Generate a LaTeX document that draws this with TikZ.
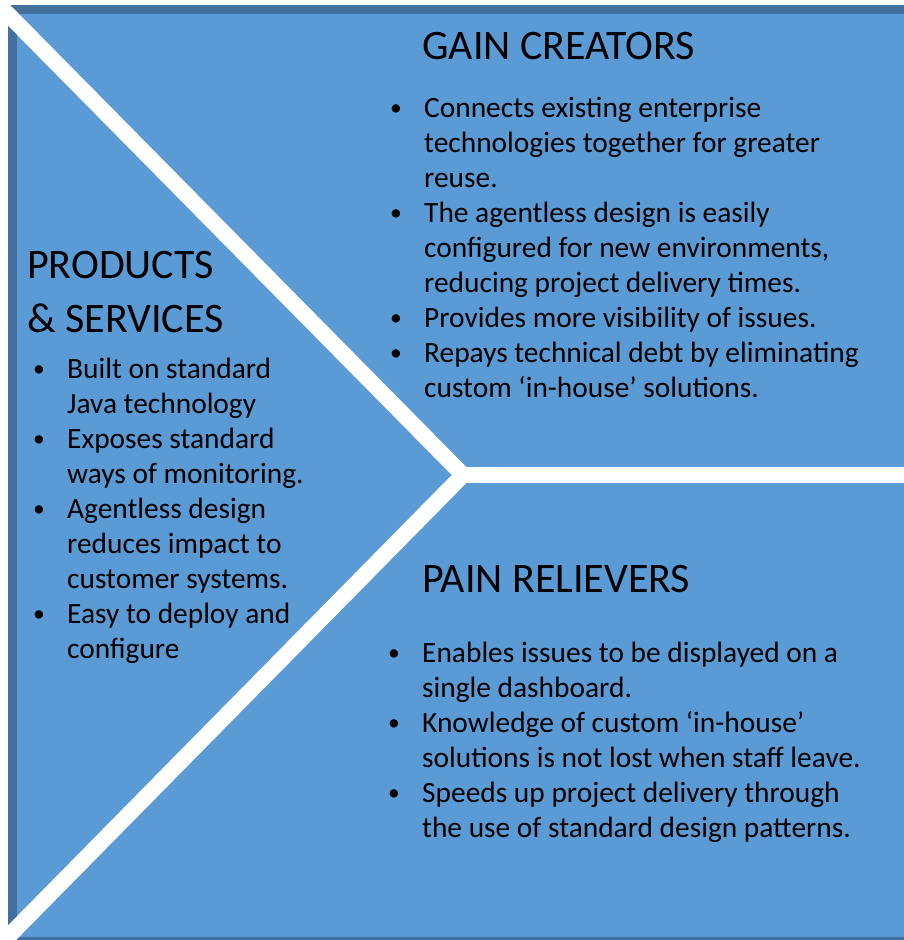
\documentclass[tikz,border=0pt]{standalone}
\usepackage{fontspec}
\setmainfont{Carlito}
\usetikzlibrary{positioning}
\usetikzlibrary{backgrounds}
\definecolor{panelblue}{RGB}{91,155,213}
\definecolor{edgeblue}{RGB}{65,113,156}
\newcommand{\bul}{\makebox[31pt][l]{\hspace*{-3pt}\raisebox{1.5pt}{\scalebox{0.8}{\textbullet}}}}
\newcommand{\ind}{\hspace*{31pt}}

\begin{document}
\begin{tikzpicture}[x=1pt,y=-1pt,
		heading/.style={anchor=base west,inner sep=0pt,font=\fontsize{42}{54}\selectfont,align=left},
		bullets/.style={anchor=base west,inner sep=0pt,font=\fontsize{29.4}{35}\selectfont,align=left},
		divider/.style={white,line width=16pt,line join=miter}]
		\useasboundingbox (0,0) rectangle (904,940);
		\clip (0,0) rectangle (904,940);
		\fill[white] (0,0) rectangle (904,940);
		\draw[edgeblue,fill=panelblue,line width=8.5pt] (12.5,9.25) rectangle (912,941.5);

		\coordinate (tl) at (-11,-5);
		\coordinate (apex) at (463,475);
		\coordinate (bl) at (-5,950);
		\coordinate (rt) at (915,475);
		\draw[divider] (tl) -- (apex) -- (bl);
		\draw[divider] (apex) -- (rt);

		% anchors sit on the last baseline of each block
		\node[heading] at (422,59) (gain) {GAIN CREATORS};
		\node[heading] at (27,332) (prod) {PRODUCTS\\\& SERVICES};
		\node[heading] at (422,592) (pain) {PAIN RELIEVERS};

		\node[bullets] at (393,397) (gainlist)
		{\bul Connects existing enterprise\\
			\ind technologies together for greater\\
			\ind reuse.\\
			\bul The agentless design is easily\\
			\ind configured for new environments,\\
			\ind reducing project delivery times.\\
			\bul Provides more visibility of issues.\\
			\bul Repays technical debt by eliminating\\
			\ind custom ‘in-house’ solutions.};
		\node[bullets] at (36,658) (prodlist)
		{\bul Built on standard\\
			\ind Java technology\\
			\bul Exposes standard\\
			\ind ways of monitoring.\\
			\bul Agentless design\\
			\ind reduces impact to\\
			\ind customer systems.\\
			\bul Easy to deploy and\\
			\ind configure};
		\node[bullets] at (391,837) (painlist)
		{\bul Enables issues to be displayed on a\\
			\ind single dashboard.\\
			\bul Knowledge of custom ‘in-house’\\
			\ind solutions is not lost when staff leave.\\
			\bul Speeds up project delivery through\\
			\ind the use of standard design patterns.};
	\end{tikzpicture}
\end{document}
